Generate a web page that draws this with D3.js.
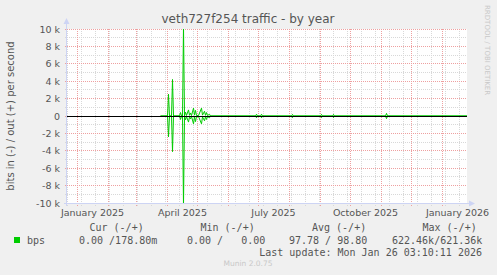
<!DOCTYPE html>
<html>
<head>
<meta charset="utf-8">
<script src="https://cdn.jsdelivr.net/npm/d3@7"></script>
<style>
  body { margin: 0; background: #f0f0f0; }
  svg { display: block; }
</style>
</head>
<body>
<div id="chart"></div>
<script>
var width = 497
var height = 275

// daily points (sparse, line joins them); in is drawn below zero
var days = ["2025-03-25","2025-04-01","2025-04-02","2025-04-03","2025-04-05","2025-04-06","2025-04-07",
  "2025-04-13","2025-04-14","2025-04-15","2025-04-16","2025-04-17","2025-04-18","2025-04-19","2025-04-20",
  "2025-04-22","2025-04-23","2025-04-24","2025-04-25","2025-04-27","2025-04-28","2025-04-29","2025-04-30",
  "2025-05-02","2025-05-05","2025-05-06","2025-05-08","2025-05-09","2025-05-10","2025-05-11","2025-05-13",
  "2025-05-14","2025-06-28","2025-06-29","2025-06-30","2025-07-03","2025-07-04","2025-07-05","2025-08-03",
  "2025-08-04","2025-08-05","2025-09-01","2025-09-02","2025-09-03","2025-09-13","2025-09-14","2025-09-15",
  "2025-11-05","2025-11-06","2025-11-07","2026-01-26"]
var outBits = [0,0,2500,0,0,4200,0,
  0,400,0,0,621360,0,450,60,
  700,80,350,50,900,100,650,60,
  50,900,100,550,80,400,60,200,
  0,0,200,0,0,200,0,0,
  180,0,0,180,0,0,180,0,
  0,300,0,0]
var inBits = [0,0,2400,0,0,4100,0,
  0,400,0,0,622460,0,450,60,
  700,80,350,50,900,100,650,60,
  50,900,100,550,80,400,60,200,
  0,0,200,0,0,200,0,0,
  180,0,0,180,0,0,180,0,
  0,300,0,0]

var yTicks = [10000, 8000, 6000, 4000, 2000, 0, -2000, -4000, -6000, -8000, -10000]
var yLabels = ["10 k", "8 k", "6 k", "4 k", "2 k", "0", "-2 k", "-4 k", "-6 k", "-8 k", "-10 k"]
var monthLabels = ["January 2025", "April 2025", "July 2025", "October 2025", "January 2026"]

var legendHead = ["Cur (-/+)", "Min (-/+)", "Avg (-/+)", "Max (-/+)"]
var legendVals = ["0.00 /178.80m", "0.00 /   0.00", "97.78 / 98.80", "622.46k/621.36k"]

var parse = d3.utcParse("%Y-%m-%d")
var endTime = d3.utcParse("%Y-%m-%d %H:%M:%S")("2026-01-26 03:10:11")
var startTime = d3.utcDay.floor(d3.utcDay.offset(endTime, -400))

var pL = 67, pR = 467, pT = 29, pB = 203

var x = d3.scaleUtc().domain([startTime, d3.utcDay.offset(startTime, 400)]).range([pL + 0.5, pR + 0.5])
var y = d3.scaleLinear().domain([-10000, 10000]).range([pB, pT])

var svg = d3.select("#chart").append("svg")
    .attr("width", width)
    .attr("height", height)
    .style("font-family", "'DejaVu Sans', sans-serif")

svg.append("rect").attr("width", width).attr("height", height).attr("fill", "#f0f0f0")
svg.append("rect").attr("x", pL).attr("y", pT).attr("width", pR - pL).attr("height", pB - pT).attr("fill", "#fff")

var px = v => Math.floor(v) + 0.5

// minor y grid every 1k
var minorY = d3.range(-10000, 10001, 1000).filter(v => v % 2000 != 0)
svg.selectAll(".ygm").data(minorY).enter().append("line")
    .attr("x1", pL - 2).attr("x2", pR)
    .attr("y1", d => px(y(d))).attr("y2", d => px(y(d)))
    .attr("stroke", "#d8d8d8").attr("stroke-dasharray", "1,1")

// minor x grid every 2 weeks
var minorX = d3.utcSunday.range(parse("2024-12-22"), endTime, 2)
svg.selectAll(".xgm").data(minorX).enter().append("line")
    .attr("x1", d => px(x(d))).attr("x2", d => px(x(d)))
    .attr("y1", pT).attr("y2", pB + 3)
    .attr("stroke", "#d8d8d8").attr("stroke-dasharray", "1,1")

// major grid
var majorX = d3.utcMonth.range(startTime, endTime)
svg.selectAll(".xgM").data(majorX).enter().append("line")
    .attr("x1", d => px(x(d))).attr("x2", d => px(x(d)))
    .attr("y1", pT).attr("y2", pB + 3)
    .attr("stroke", "#eea0a0").attr("stroke-dasharray", "1,1")

svg.selectAll(".ygM").data(yTicks).enter().append("line")
    .attr("x1", pL - 2).attr("x2", pR)
    .attr("y1", d => px(y(d))).attr("y2", d => px(y(d)))
    .attr("stroke", "#eea0a0").attr("stroke-dasharray", "1,1")

// series (values past the frame are pinned just outside it, like rrdtool does)
svg.append("clipPath").attr("id", "clip")
    .append("rect").attr("x", pL).attr("y", pT).attr("width", pR - pL).attr("height", pB - pT + 1)

var lim = v => Math.max(-10300, Math.min(10300, v))
var pts = days.map((d, i) => ({ t: parse(d), o: outBits[i], n: inBits[i] }))
var lineOut = d3.line().x(d => x(d.t)).y(d => y(lim(d.o)))
var lineIn = d3.line().x(d => x(d.t)).y(d => y(lim(-d.n)))

var g = svg.append("g").attr("clip-path", "url(#clip)")
g.append("path").attr("d", lineIn(pts)).attr("fill", "none").attr("stroke", "#00cc00").attr("stroke-width", 1)
g.append("path").attr("d", lineOut(pts)).attr("fill", "none").attr("stroke", "#00cc00").attr("stroke-width", 1)

// zero line
svg.append("line").attr("x1", pL).attr("x2", pR)
    .attr("y1", px(y(0))).attr("y2", px(y(0)))
    .attr("stroke", "#000")

// axes
var axisCol = "#cdd4f4"
svg.append("line").attr("x1", pL - 0.5).attr("x2", pL - 0.5).attr("y1", pB + 3).attr("y2", pT - 6).attr("stroke", axisCol)
svg.append("line").attr("x1", pL - 3).attr("x2", pR + 2).attr("y1", pB + 0.5).attr("y2", pB + 0.5).attr("stroke", axisCol)
svg.append("path").attr("d", `M${pL - 3.5},${pT - 5} L${pL + 2.5},${pT - 5} L${pL - 0.5},${pT - 11} Z`).attr("fill", axisCol)
svg.append("path").attr("d", `M${pR + 2},${pB - 2.5} L${pR + 2},${pB + 3.5} L${pR + 8},${pB + 0.5} Z`).attr("fill", axisCol)

// y labels
svg.selectAll(".yl").data(yTicks).enter().append("text")
    .attr("x", 60).attr("y", d => y(d) + 3.5)
    .attr("text-anchor", "end")
    .attr("font-size", "9.5px").attr("fill", "#555")
    .text((d, i) => yLabels[i])

// x labels, every 3 months, offset half a month
var labMonths = d3.utcMonth.every(3).range(startTime, endTime)
svg.selectAll(".xl").data(labMonths).enter().append("text")
    .attr("x", d => x(d) + 15)
    .attr("y", 215.5)
    .attr("text-anchor", "middle")
    .attr("font-size", "9.5px").attr("fill", "#555")
    .text((d, i) => monthLabels[i])

// titles
svg.append("text").attr("x", 248).attr("y", 23).attr("text-anchor", "middle")
    .attr("font-size", "12px").attr("fill", "#555")
    .text("veth727f254 traffic - by year")
svg.append("text").attr("transform", "translate(14,116) rotate(-90)").attr("text-anchor", "middle")
    .attr("font-size", "10px").attr("fill", "#555")
    .text("bits in (-) / out (+) per second")
svg.append("text").attr("transform", "translate(485,5) rotate(90)").attr("text-anchor", "start")
    .attr("font-size", "7px").attr("fill", "#c8c8c8")
    .text("RRDTOOL / TOBI OETIKER")

// legend
var mono = "'DejaVu Sans Mono', monospace"
var headX = [89.5, 200.5, 312, 422.5]
var valX = [79, 187, 289, 392]
svg.selectAll(".lh").data(legendHead).enter().append("text")
    .attr("x", (d, i) => headX[i]).attr("y", 230.5)
    .style("font-family", mono).attr("font-size", "10px").attr("fill", "#555")
    .text(d => d)
svg.append("rect").attr("x", 14).attr("y", 237).attr("width", 6).attr("height", 6).attr("fill", "#00cc00")
svg.append("text").attr("x", 27).attr("y", 243.5)
    .style("font-family", mono).attr("font-size", "10px").attr("fill", "#555").text("bps")
svg.selectAll(".lv").data(legendVals).enter().append("text")
    .attr("x", (d, i) => valX[i]).attr("y", 243.5)
    .style("font-family", mono).attr("font-size", "10px").attr("fill", "#555")
    .style("white-space", "pre").text(d => d)
svg.append("text").attr("x", 482).attr("y", 255.5).attr("text-anchor", "end")
    .style("font-family", mono).attr("font-size", "10px").attr("fill", "#555")
    .text("Last update: Mon Jan 26 03:10:11 2026")
svg.append("text").attr("x", 248).attr("y", 266).attr("text-anchor", "middle")
    .attr("font-size", "7.5px").attr("fill", "#c8c8c8")
    .text("Munin 2.0.75")
</script>
</body>
</html>
